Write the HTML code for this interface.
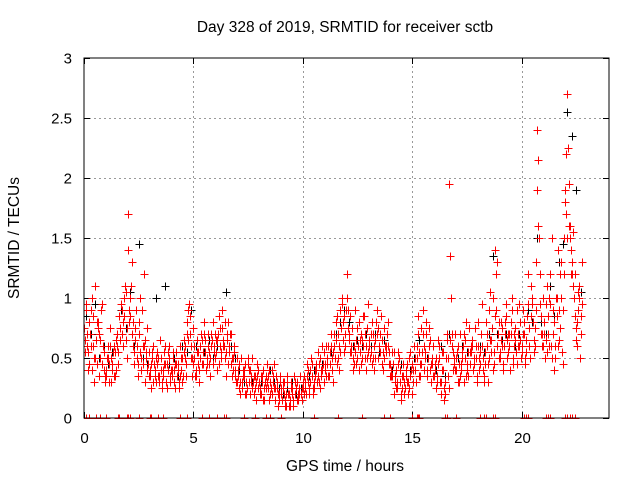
<!DOCTYPE html>
<html><head><meta charset="utf-8"><style>
html,body{margin:0;padding:0;background:#fff;}
svg text{font-family:"Liberation Sans",sans-serif;fill:#000;}
</style></head><body>
<svg id="chart" width="640" height="480" xmlns="http://www.w3.org/2000/svg">
<rect width="640" height="480" fill="#fff"/>
<text x="345" y="32" font-size="15.5" text-anchor="middle">Day 328 of 2019, SRMTID for receiver sctb</text>
<text x="345" y="471" font-size="15.5" text-anchor="middle">GPS time / hours</text>
<text transform="translate(19,238) rotate(-90)" font-size="15.5" text-anchor="middle">SRMTID / TECUs</text>
<g id="grid"></g>
<g id="ticks"></g>
<defs><clipPath id="pc"><rect x="84" y="56" width="525" height="363"/></clipPath></defs>
<g id="marks" clip-path="url(#pc)"></g>
<rect x="84" y="58" width="525" height="360" fill="none" stroke="#000" stroke-width="1"/>
</svg>
<script>
const xTicks=[0,5,10,15,20];
const yTicks=[0,0.5,1,1.5,2,2.5,3];
const yTickLabels=["0","0.5","1","1.5","2","2.5","3"];
const sampleStep=0.1;
const seriesA=[.75,.9,.55,.6,.85,1.1,.45,.7,.95,.4,
.35,.5,.6,.45,.55,.7,.85,.95,.8,1.05,
1.7,1.0,.7,.55,.6,.8,.5,.45,.65,.4,
.35,.55,.45,.3,.5,.4,.35,.6,.45,.5,
.4,.3,.55,.45,.35,.5,.6,.8,.95,.6,
.45,.35,.55,.5,.65,.7,.45,.55,.6,.8,
.5,.65,.75,.9,.6,.55,.45,.7,.5,.4,
.3,.45,.25,.35,.3,.5,.4,.25,.35,.45,
.3,.2,.4,.25,.35,.3,.2,.45,.3,.15,
.2,.25,.15,.3,.1,.2,.35,.25,.15,.2,
.25,.3,.35,.2,.45,.3,.4,.35,.5,.4,
.45,.5,.35,.6,.55,.8,.7,.9,1.0,.85,
1.2,.7,.6,.5,.55,.75,.65,.5,.85,.6,
.55,.7,.5,.65,.9,.6,.45,.75,.55,.6,
.45,.35,.3,.25,.5,.2,.35,.4,.3,.55,
.45,.6,.5,.35,.75,.9,.55,.4,.65,.5,
.35,.5,.45,.3,.55,.2,.65,1.95,.7,.5,
.4,.6,.35,.5,.65,.45,.75,.55,.4,.6,
.8,.45,.6,.35,.7,.9,.55,1.0,1.4,.6,
.5,.75,.6,.85,.55,.7,.45,.65,.9,.6,
.55,.8,.65,.95,.5,1.0,.75,2.4,1.5,.85,
.6,.95,.7,1.2,.5,.8,1.0,.65,1.3,.9,
1.9,2.7,1.6,1.3,1.0,.75,.9,.85];
const seriesB=[.55,.6,.8,.4,.3,.65,.8,.5,.6,.35,
.5,.45,.3,.6,.4,.55,.65,.7,1.0,.75,
.9,1.1,.6,.75,.45,.55,.9,1.2,.5,.35,
.45,.3,.4,.55,.35,.25,.45,.3,.4,.3,
.5,.45,.35,.25,.4,.55,.45,.65,.7,.35,
.6,.55,.4,.7,.45,.55,.6,.5,.65,.55,
.65,.45,.55,.6,.8,.7,.55,.5,.6,.3,
.4,.2,.35,.45,.25,.4,.3,.2,.3,.25,
.25,.35,.15,.3,.4,.25,.35,.25,.2,.3,
.15,.3,.2,.1,.25,.15,.2,.3,.2,.25,
.35,.2,.4,.3,.25,.4,.3,.45,.35,.55,
.35,.6,.45,.5,.7,.45,.6,.75,.65,.7,
.9,.55,.75,.45,.65,.4,.7,.6,.5,.75,
.65,.45,.6,.8,.5,.7,.55,.6,.7,.45,
.35,.55,.25,.45,.3,.35,.2,.45,.25,.4,
.3,.4,.7,.45,.55,.4,.8,.6,.45,.35,
.45,.3,.6,.4,.25,.5,.35,1.35,.55,.4,
.55,.3,.45,.7,.35,.55,.45,.65,.5,.35,
.5,.7,.4,.55,.3,.65,.75,.45,1.2,.8,
.65,.45,.8,.5,.7,.9,.6,.55,.7,.8,
.7,.5,.85,.6,1.1,.65,.9,1.6,.95,.6,
.8,.55,1.0,.6,.9,.5,1.4,.75,.55,1.5,
2.2,1.6,1.4,1.1,1.2,.6,1.0,.95];
const seriesC=[.65,.7,.45,.9,.6,.5,.75,.65,.45,.55,
.4,.3,.5,.55,.35,.6,.75,.9,.85,.65,
1.4,.85,.8,.65,.5,.7,.4,.6,.55,.45,
.4,.5,.35,.45,.3,.5,.4,.45,.55,.35,
.35,.4,.45,.3,.5,.35,.5,.7,.85,.5,
.5,.4,.45,.6,.55,.65,.5,.45,.7,.6,
.55,.7,.6,.75,.5,.65,.6,.45,.4,.35,
.35,.3,.3,.4,.2,.3,.35,.3,.25,.35,
.2,.3,.25,.35,.25,.2,.3,.15,.25,.2,
.25,.2,.1,.2,.15,.25,.3,.15,.25,.2,
.3,.25,.3,.4,.35,.25,.45,.3,.4,.45,
.4,.45,.55,.4,.6,.65,.5,.55,.8,.6,
1.0,.65,.55,.6,.45,.6,.55,.65,.7,.5,
.6,.55,.7,.5,.75,.55,.65,.5,.6,.55,
.4,.45,.35,.3,.4,.25,.3,.35,.2,.35,
.4,.5,.6,.55,.45,.6,.7,.5,.4,.45,
.4,.35,.5,.2,.4,.3,.5,.65,.6,.45,
.5,.45,.4,.6,.5,.4,.55,.6,.45,.5,
.6,.55,.5,.45,.6,.5,.65,.55,.9,.7,
.55,.6,.7,.65,.6,.8,.5,.75,.6,.65,
.6,.7,.55,.75,.85,.8,.6,1.9,1.2,.7,
.7,.65,.85,.95,.7,.6,.85,.9,1.0,1.2,
1.7,2.25,1.5,1.2,.85,.8,1.1,.7];
const seriesD=[.95,.4,.7,1.0,.5,.8,.35,.9,.6,.3,
.6,.75,.4,.35,.65,.45,.95,.6,1.1,.5,
.8,1.3,.45,.9,.35,1.0,.6,.3,.75,.55,
.25,.6,.5,.35,.65,.3,.55,.25,.6,.4,
.55,.25,.4,.6,.3,.65,.35,.9,.5,.75,
.35,.65,.3,.45,.8,.4,.7,.35,.45,.7,
.4,.85,.5,.65,.35,.8,.7,.35,.55,.5,
.25,.5,.4,.2,.45,.2,.5,.35,.15,.4,
.35,.15,.3,.45,.15,.4,.25,.35,.1,.35,
.3,.1,.35,.2,.3,.1,.25,.2,.35,.15,
.2,.45,.25,.5,.2,.35,.55,.25,.6,.3,
.6,.35,.7,.3,.5,.85,.4,.95,.55,.9,
.75,.85,.4,.9,.5,.8,.45,.85,.4,.95,
.5,.8,.4,.7,.6,.85,.4,.6,.8,.35,
.55,.2,.4,.55,.15,.45,.25,.3,.5,.2,
.6,.3,.85,.35,.7,.5,.35,.75,.3,.6,
.25,.65,.3,.55,.15,.7,.25,1.0,.4,.7,
.3,.7,.55,.3,.8,.35,.6,.4,.75,.3,
.4,.95,.3,.8,.45,1.05,.4,.85,1.3,.5,
.8,.4,.95,.7,.4,1.0,.7,.45,.95,.5,
.9,.45,1.2,.5,.95,.55,1.3,2.15,.7,1.0,
.5,1.1,.6,1.5,.4,1.0,.6,1.2,.45,1.8,
1.5,1.95,1.2,1.55,.65,1.05,.5,1.3];
const blackStep=0.2;
const seriesBlack=[.85,.7,.95,.5,.6,.45,.55,.6,.9,.75,
1.05,.6,1.45,.5,.45,.5,1.0,.4,1.1,.45,
.5,.35,.6,.55,.9,.6,.5,.55,.65,.5,
.6,.75,1.05,.6,.5,.4,.3,.45,.3,.35,
.3,.25,.4,.3,.25,.2,.25,.3,.2,.25,
.3,.35,.4,.35,.45,.5,.55,.7,.8,.9,
.8,.6,.65,.6,.7,.6,.7,.55,.65,.6,
.4,.3,.45,.35,.4,.5,.65,.9,.5,.45,
.4,.6,.35,.7,.5,.5,.6,.55,.6,.5,
.6,.55,.7,1.35,.7,.65,.7,.8,.6,.7,
.7,.9,.8,1.5,.8,.7,1.1,.85,1.3,1.45,
2.55,2.35,1.9,1.05];
const zeroTimes=[0.1,0.25,0.55,0.75,1.0,1.55,1.6,1.95,2.0,2.1,2.5,3.0,3.05,3.4,3.6,4.4,4.7,5.4,5.7,6.1,6.4,6.5,7.3,7.8,8.3,8.5,9.0,10.5,11.6,12.7,13.7,14.0,15.0,15.2,15.25,15.3,16.5,16.6,17.0,18.1,18.3,18.4,18.7,18.8,20.1,20.2,20.3,21.1,21.2,21.3,22.0,22.1,22.2,22.3,22.45];

const X0=84,X1=609,Y0=418,Y1=58;
function xs(h){return X0+(h/24)*(X1-X0);}
function ys(v){return Y0-(v/3)*(Y0-Y1);}
const NS="http://www.w3.org/2000/svg";
const grid=document.getElementById('grid'),ticks=document.getElementById('ticks'),marks=document.getElementById('marks');
function ln(g,x1,y1,x2,y2,st,dash){const l=document.createElementNS(NS,'line');l.setAttribute('x1',x1);l.setAttribute('y1',y1);l.setAttribute('x2',x2);l.setAttribute('y2',y2);l.setAttribute('stroke',st);if(dash)l.setAttribute('stroke-dasharray',dash);g.appendChild(l);return l;}
function tx(x,y,s,anchor,name){const t=document.createElementNS(NS,'text');t.setAttribute('x',x);t.setAttribute('y',y);t.setAttribute('font-size','15');t.setAttribute('text-anchor',anchor);t.textContent=s;


ticks.appendChild(t);}
xTicks.forEach(h=>{const x=Math.round(xs(h))+0.5;
if(h>0){const g=ln(grid,x,Y0,x,Y1,'#999','2,3');

}
ln(ticks,x,Y0,x,Y0-6,'#000');ln(ticks,x,Y1,x,Y1+6,'#000');
tx(x,443,String(h),'middle','x-tick-label');});
yTicks.forEach((v,i)=>{const y=Math.round(ys(v))+0.5;
if(v>0&&v<3){const g=ln(grid,X0,y,X1,y,'#999','2,3');

}
ln(ticks,X0,y,X0+6,y,'#000');ln(ticks,X1,y,X1-6,y,'#000');
tx(72,y+5,yTickLabels[i],'end','y-tick-label');});
function plus(h,v,col,name){const x=Math.round(xs(h))+0.5,y=Math.round(ys(v))+0.5;
const p=document.createElementNS(NS,'path');
p.setAttribute('d','M'+(x-4)+' '+y+'H'+(x+4)+'M'+x+' '+(y-4)+'V'+(y+4));
p.setAttribute('stroke',col);p.setAttribute('stroke-width','1');p.setAttribute('fill','none');


marks.appendChild(p);}
seriesBlack.forEach((v,i)=>plus(0.1+i*blackStep,v,'#000','point-black'));
seriesA.forEach((v,i)=>plus(i*sampleStep,v,'#f00','point-red'));
seriesB.forEach((v,i)=>plus(0.05+i*sampleStep,v,'#f00','point-red'));
seriesC.forEach((v,i)=>plus(0.025+i*sampleStep,v,'#f00','point-red'));
seriesD.forEach((v,i)=>plus(0.075+i*sampleStep,v,'#f00','point-red'));
zeroTimes.forEach(h=>plus(h,0,'#f00','point-zero'));
</script>
</body></html>
